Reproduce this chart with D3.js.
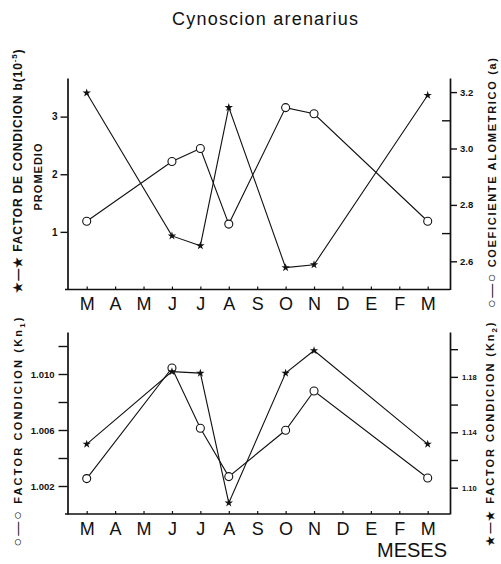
<!DOCTYPE html>
<html>
<head>
<meta charset="utf-8">
<script src="https://cdn.jsdelivr.net/npm/d3@7"></script>
<style>
body { margin: 0; background: #fff; }
text { font-family: "Liberation Sans", Arial, sans-serif; fill: #111; }
.tk text { font-weight: bold; }
.tk line, .tk path { stroke: #111; }
</style>
</head>
<body>
<div id="chart"></div>
<script>
const months = ["M", "A", "M", "J", "J", "A", "S", "O", "N", "D", "E", "F", "M"];
// month slot (0..12) of each sample
const obsIdx = [0, 3, 4, 5, 7, 8, 12];

// top panel
const factorB = [3.41, 0.93, 0.76, 3.16, 0.38, 0.43, 3.37];
const coefA = [2.742, 2.954, 3.0, 2.732, 3.145, 3.123, 2.742];
// bottom panel
const kn1 = [1.00253, 1.01043, 1.00612, 1.00267, 1.00598, 1.00879, 1.00257];
const kn2 = [1.1315, 1.1838, 1.1827, 1.089, 1.1827, 1.199, 1.1315];

const ticksB = [1, 2, 3];
const ticksA = [2.6, 2.8, 3.0, 3.2];
const minorA = [2.7, 2.9, 3.1];
const ticksK1 = [1.002, 1.006, 1.010];
const minorK1 = [1.004, 1.008, 1.012];
const ticksK2 = [1.10, 1.14, 1.18];
const minorK2 = [1.12, 1.16, 1.20];

const W = 501, H = 564;
const xl = 67.5, xr = 450;
const top1 = 78, bot1 = 289.5;
const top2 = 332, bot2 = 514;

const svg = d3.select("#chart").append("svg")
    .attr("width", W)
    .attr("height", H);

const x = d3.scalePoint().domain(d3.range(13)).range([86.7, 427.7]);

const yB = d3.scaleLinear().domain([0, 3.67]).range([bot1, top1]);
const yA = d3.scaleLinear().domain([2.5, 3.25]).range([bot1, top1]);
const yK1 = d3.scaleLinear().domain([1.000, 1.013]).range([bot2, top2]);
const yK2 = d3.scaleLinear().domain([1.081, 1.2124]).range([bot2, top2]);

// title
svg.append("text")
    .attr("x", 265).attr("y", 25)
    .attr("text-anchor", "middle")
    .attr("font-size", 18)
    .attr("textLength", 186)
    .attr("lengthAdjust", "spacing")
    .text("Cynoscion arenarius");

function yAxis(axis, xpos, size) {
    const g = svg.append("g").attr("class", "tk")
        .attr("transform", `translate(${xpos},0)`)
        .call(axis)
        .attr("font-family", null);
    g.select(".domain").attr("stroke-width", 1.7);
    g.selectAll(".tick line").attr("stroke-width", 1.4);
    g.selectAll(".tick text").attr("font-size", size);
    return g;
}

function minor(axis, xpos) {
    svg.append("g").attr("class", "tk")
        .attr("transform", `translate(${xpos},0)`)
        .call(axis.tickFormat(""))
        .call(g => g.select(".domain").remove())
        .selectAll(".tick line").attr("stroke-width", 1.4);
}

// top panel axes
yAxis(d3.axisLeft(yB).tickValues(ticksB).tickSize(7).tickPadding(3).tickSizeOuter(0).tickFormat(d3.format("d")), xl, 10);
yAxis(d3.axisRight(yA).tickValues(ticksA).tickSize(7).tickPadding(3).tickSizeOuter(0).tickFormat(d3.format(".1f")), xr, 9.5);
minor(d3.axisRight(yA).tickValues(minorA).tickSize(-8), xr);

// bottom panel axes
yAxis(d3.axisLeft(yK1).tickValues(ticksK1).tickSize(9).tickPadding(4).tickSizeOuter(0).tickFormat(d3.format(".3f")), xl, 9.5);
minor(d3.axisLeft(yK1).tickValues(minorK1).tickSize(9), xl);
yAxis(d3.axisRight(yK2).tickValues(ticksK2).tickSize(8).tickPadding(4).tickSizeOuter(0).tickFormat(d3.format(".2f")), xr, 7.5);
minor(d3.axisRight(yK2).tickValues(minorK2).tickSize(8), xr);

// month axes
[bot1, bot2].forEach((yb) => {
    svg.append("line")
        .attr("x1", 65).attr("x2", xr)
        .attr("y1", yb).attr("y2", yb)
        .attr("stroke", "#111").attr("stroke-width", 1.7);
    const g = svg.append("g").attr("class", "mx")
        .attr("transform", `translate(0,${yb})`)
        .call(d3.axisBottom(x).tickSize(-3).tickPadding(8).tickFormat((i) => months[i]))
        .attr("font-family", null);
    g.select(".domain").remove();
    g.selectAll(".tick line").attr("stroke", "#111").attr("stroke-width", 1.2);
    g.selectAll(".tick text").attr("font-size", 18).attr("fill", "#111");
});

svg.append("text")
    .attr("x", 412).attr("y", 557)
    .attr("text-anchor", "middle")
    .attr("font-size", 20)
    .attr("textLength", 70)
    .text("MESES");

// series
function series(values, y, kind) {
    const pts = values.map((v, i) => [x(obsIdx[i]), y(v)]);
    svg.append("path")
        .attr("d", d3.line()(pts))
        .attr("fill", "none")
        .attr("stroke", "#111")
        .attr("stroke-width", 1.1);
    if (kind === "star") {
        svg.append("g").selectAll("path")
            .data(pts)
            .enter().append("path")
            .attr("transform", (d) => `translate(${d[0]},${d[1]})`)
            .attr("d", d3.symbol(d3.symbolStar, 22))
            .attr("fill", "#111");
    } else {
        svg.append("g").selectAll("circle")
            .data(pts)
            .enter().append("circle")
            .attr("cx", (d) => d[0])
            .attr("cy", (d) => d[1])
            .attr("r", 4)
            .attr("fill", "#fff")
            .attr("stroke", "#111")
            .attr("stroke-width", 1.1);
    }
}

series(factorB, yB, "star");
series(coefA, yA, "circle");
series(kn1, yK1, "circle");
series(kn2, yK2, "star");

// rotated axis titles
function vlabel(xpos, ymid, len, size, parts) {
    const t = svg.append("text")
        .attr("transform", `translate(${xpos},${ymid}) rotate(-90)`)
        .attr("text-anchor", "middle")
        .attr("font-size", size)
        .attr("font-weight", "bold")
        .attr("textLength", len)
        .attr("lengthAdjust", "spacing");
    parts.forEach((p) => {
        const s = t.append("tspan").text(p[0]);
        if (p[1]) s.attr("dy", p[1]);
        if (p[2]) s.attr("font-size", p[2]);
        if (p[3]) s.attr("font-weight", "normal");
    });
}

vlabel(22, 171, 243, 12, [["★—★  FACTOR DE CONDICION  b(10"], ["-5", -5, 8], [")", 5]]);
vlabel(42, 177, 67, 11, [["PROMEDIO"]]);
vlabel(496, 183, 250, 11, [["○—○", 0, 14, true], ["  COEFICIENTE  ALOMETRICO  (a)"]]);
vlabel(22, 432, 229, 11, [["○—○", 0, 14, true], ["  FACTOR CONDICION  (Kn"], ["1", 3, 8], [")", -3]]);
vlabel(494, 434, 223, 11, [["★—★  FACTOR CONDICION  (Kn"], ["2", 3, 8], [")", -3]]);
</script>
</body>
</html>
